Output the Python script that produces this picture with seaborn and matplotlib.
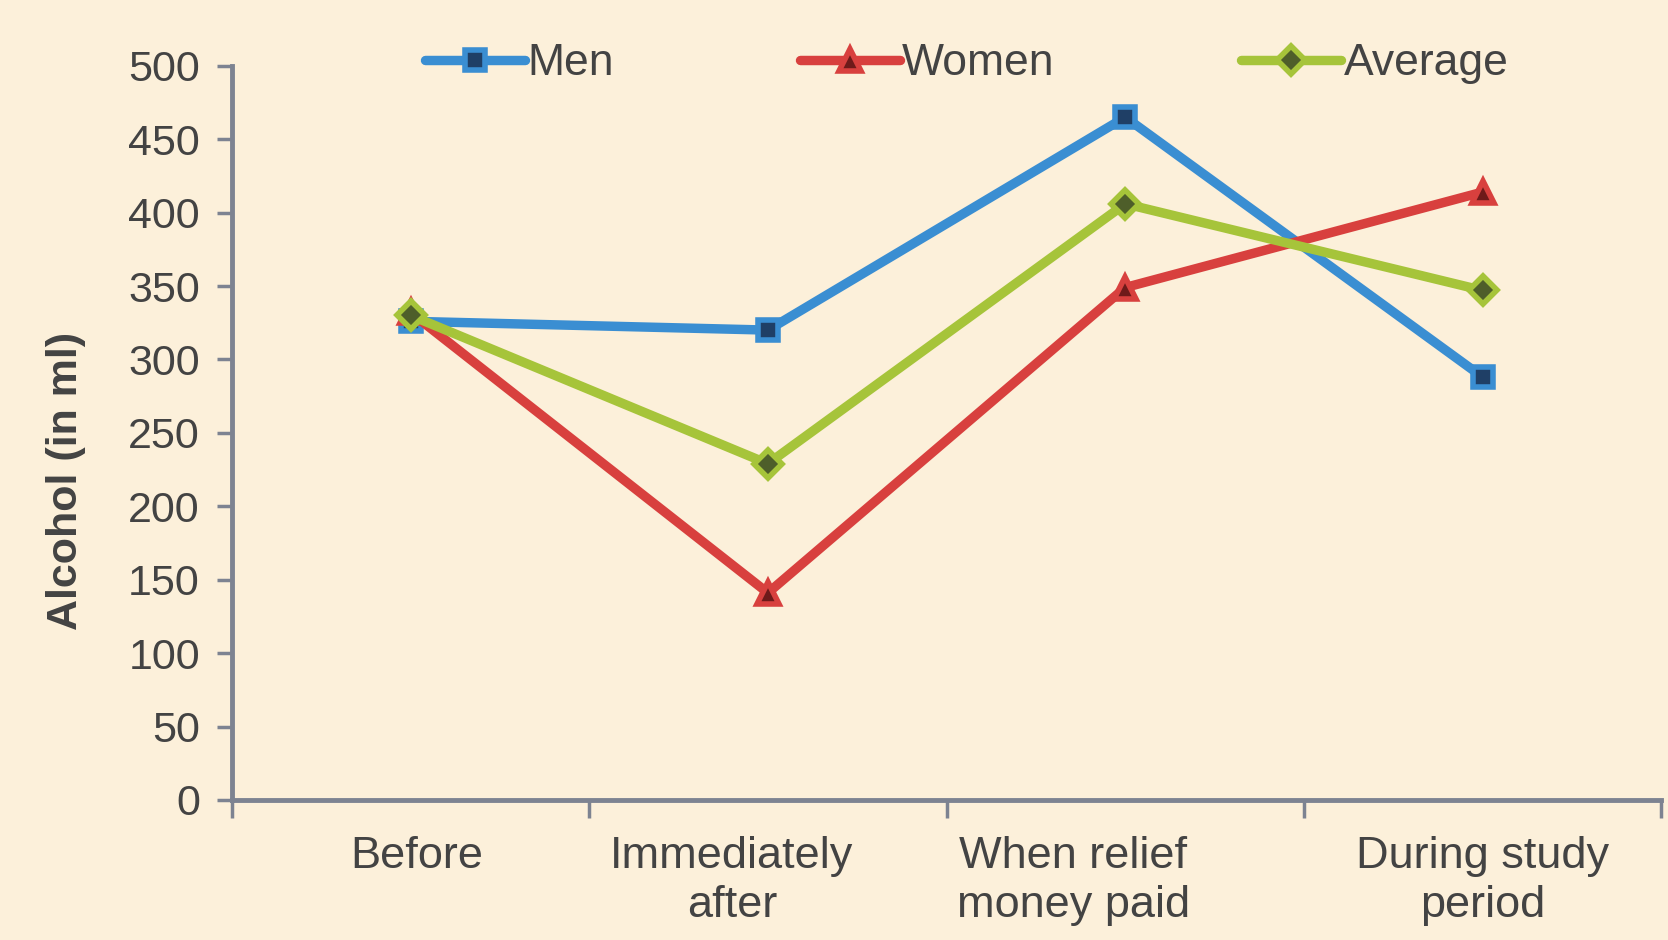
import matplotlib
matplotlib.use("Agg")
import matplotlib.pyplot as plt
import matplotlib.transforms as mtransforms
import seaborn as sns
import pandas as pd

# Reported alcohol consumption per period
periods = ["Before", "Immediately\nafter", "When relief\nmoney paid", "During study\nperiod"]
men = [326, 320, 465, 288]
women = [332, 141, 349, 414]
average = [330, 229, 406, 347]
series_names = ["Men", "Women", "Average"]
y_ticks = [0, 50, 100, 150, 200, 250, 300, 350, 400, 450, 500]

df = pd.DataFrame({
    "period": periods * 3,
    "pos": list(range(len(periods))) * 3,
    "value": men + women + average,
    "series": sum([[s] * len(periods) for s in series_names], []),
})

bg = "#FCF0DA"
text_col = "#434343"
axis_col = "#7D8391"
styles = {
    "Men": dict(color="#3A8ED2", marker="s", mfc="#1F3F66", ms=15),
    "Women": dict(color="#D8403E", marker="^", mfc="#6E1A1A", ms=16),
    "Average": dict(color="#A6C43A", marker="D", mfc="#4E5E2A", ms=14),
}

sns.set_theme(style="white")
plt.rcParams["font.family"] = ["Liberation Sans", "DejaVu Sans"]

fig = plt.figure(figsize=(16.68, 9.40), dpi=100, facecolor=bg)
ax = fig.add_axes([0.139, 0.149, 0.857, 0.781], facecolor=bg)

for name in series_names:
    st = styles[name]
    sns.lineplot(
        data=df[df["series"] == name], x="pos", y="value", ax=ax,
        color=st["color"], linewidth=6.8, marker=st["marker"], markersize=st["ms"],
        markerfacecolor=st["mfc"], markeredgecolor=st["color"], markeredgewidth=4,
        label=name, legend=False,
    )

ax.set_xlim(-0.5, len(periods) - 0.5)
ax.set_ylim(0, 500)
ax.set_yticks(y_ticks)
ax.set_yticklabels([str(v) for v in y_ticks], fontsize=31, color=text_col)
ax.set_xticks(range(len(periods)))
ax.set_xticklabels(periods, fontsize=32.5, color=text_col, linespacing=1.25)
ax.set_xticks([i - 0.5 for i in range(len(periods) + 1)], minor=True)
ax.tick_params(axis="x", which="major", bottom=True, length=0, pad=26)
ax.tick_params(axis="x", which="minor", bottom=True, length=13, width=2.5,
               color=axis_col, direction="out")
ax.tick_params(axis="y", which="major", left=True, length=11, width=2.5,
               color=axis_col, direction="out", pad=12)

# the wrapped middle labels sit a little left of their category centres
label_shift_px = [6, -36, -52, 0]
for lbl, dx in zip(ax.get_xticklabels(), label_shift_px):
    lbl.set_transform(lbl.get_transform()
                      + mtransforms.ScaledTranslation(dx / 100, 0, fig.dpi_scale_trans))

ax.set_xlabel("")
ax.set_ylabel("Alcohol (in ml)", fontsize=31, fontweight="bold", color=text_col)
ax.yaxis.set_label_coords(-0.102, 0.435)

for side in ["top", "right"]:
    ax.spines[side].set_visible(False)
for side in ["left", "bottom"]:
    ax.spines[side].set_color(axis_col)
    ax.spines[side].set_linewidth(3.5)

leg = ax.legend(
    loc="center", bbox_to_anchor=(0.514, 1.003), ncol=3, frameon=False,
    fontsize=32, handlelength=2.25, handletextpad=0.05, columnspacing=4.2,
    labelcolor=text_col,
)

fig.savefig("out.png", dpi=100, facecolor=bg)
